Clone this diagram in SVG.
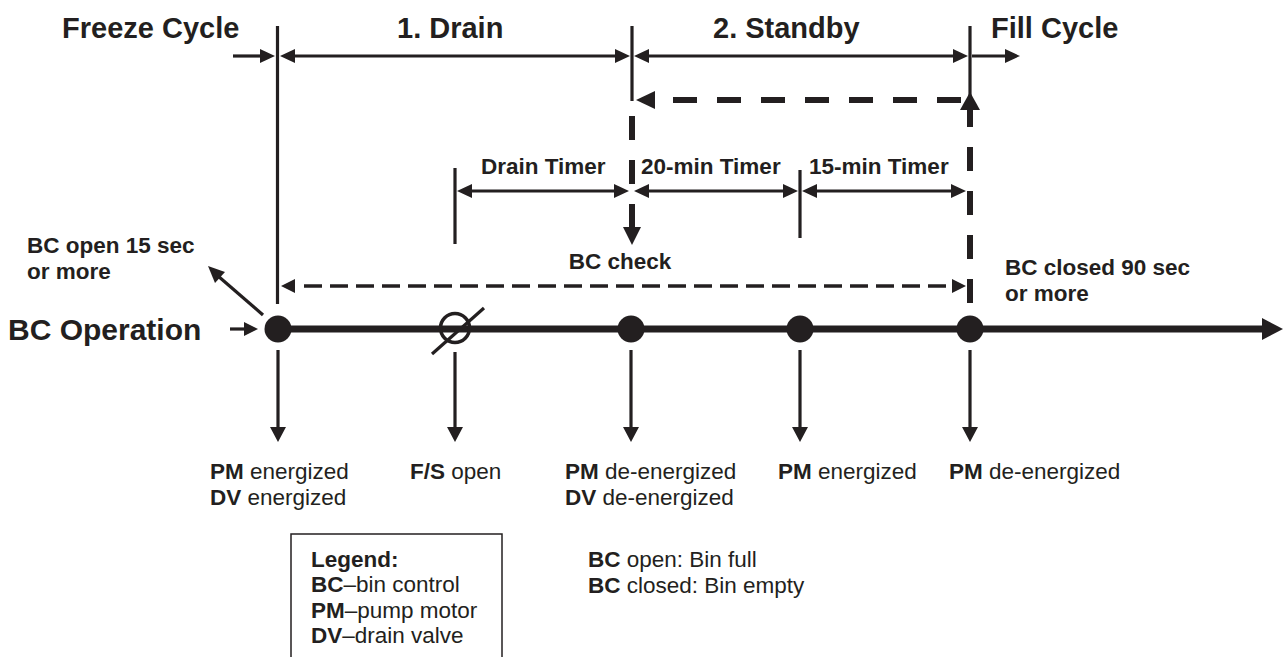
<svg xmlns="http://www.w3.org/2000/svg" width="1284" height="657" viewBox="0 0 1284 657">
<style>
text{font-family:"Liberation Sans",Arial,Helvetica,sans-serif;fill:#231f20}
.h{font-size:29px;font-weight:bold}
.m{font-size:22.5px;font-weight:bold}
.l{font-size:22.5px}
.b{font-weight:bold}
.ln{stroke:#231f20;stroke-width:3.2;fill:none}
.thk{stroke:#231f20;stroke-width:6;fill:none;stroke-dasharray:24 20}
.thin{stroke:#231f20;stroke-width:3.5;fill:none;stroke-dasharray:18 8}
.ah{fill:#231f20}
</style>
<rect width="1284" height="657" fill="#fff"/>
<g id="headings">
<text class="h" x="62" y="38">Freeze Cycle</text>
<text class="h" x="397" y="38">1. Drain</text>
<text class="h" x="713" y="38">2. Standby</text>
<text class="h" x="991" y="38">Fill Cycle</text>
</g>
<g id="connectors">
<line class="ln" x1="277.5" y1="26" x2="277.5" y2="304"/>
<line class="ln" x1="632" y1="26" x2="632" y2="101"/>
<line class="ln" x1="970" y1="26" x2="970" y2="96"/>
<line class="ln" x1="233" y1="56" x2="262" y2="56"/>
<polygon class="ah" points="275,56 260,49 260,63"/>
<line class="ln" x1="292" y1="56" x2="617" y2="56"/>
<polygon class="ah" points="280,56 295,49 295,63"/>
<polygon class="ah" points="630,56 615,49 615,63"/>
<line class="ln" x1="646" y1="56" x2="955" y2="56"/>
<polygon class="ah" points="634,56 649,49 649,63"/>
<polygon class="ah" points="968,56 953,49 953,63"/>
<line class="ln" x1="972" y1="56" x2="1006" y2="56"/>
<polygon class="ah" points="1020,56 1005,49 1005,63"/>
<line class="thk" x1="961" y1="100" x2="673" y2="100"/>
<polygon class="ah" points="636,100 655,91 655,109"/>
<line class="thk" x1="970" y1="303" x2="970" y2="103"/>
<polygon class="ah" points="970,92 960,110 980,110"/>
<line class="thk" x1="632" y1="116" x2="632" y2="228"/>
<polygon class="ah" points="623,227 641,227 632,245"/>
<line class="ln" x1="455" y1="168" x2="455" y2="244"/>
<line class="ln" x1="800" y1="170" x2="800" y2="238"/>
<line class="ln" x1="470" y1="191" x2="616" y2="191"/>
<polygon class="ah" points="457,191 472,184 472,198"/>
<polygon class="ah" points="629,191 614,184 614,198"/>
<line class="ln" x1="647" y1="191" x2="785" y2="191"/>
<polygon class="ah" points="634,191 649,184 649,198"/>
<polygon class="ah" points="798,191 783,184 783,198"/>
<line class="ln" x1="815" y1="191" x2="953" y2="191"/>
<polygon class="ah" points="802,191 817,184 817,198"/>
<polygon class="ah" points="966,191 951,184 951,198"/>
<line class="thin" x1="304" y1="286" x2="953" y2="286"/>
<polygon class="ah" points="281,286 295,279 295,293"/>
<polygon class="ah" points="966,286 952,279 952,293"/>
<line class="ln" x1="263" y1="315" x2="218" y2="276"/>
<polygon class="ah" points="208,266 225,272 215,283"/>
<line class="ln" x1="230" y1="329" x2="246" y2="329"/>
<polygon class="ah" points="258,329 244,322 244,336"/>
<line stroke="#231f20" stroke-width="7" x1="278" y1="329" x2="1265" y2="329"/>
<polygon class="ah" points="1283,329 1262,318 1262,340"/>
<line class="ln" x1="278" y1="350" x2="278" y2="430"/>
<polygon class="ah" points="278,442 270,427 286,427"/>
<line class="ln" x1="455" y1="352" x2="455" y2="430"/>
<polygon class="ah" points="455,442 447,427 463,427"/>
<line class="ln" x1="631" y1="350" x2="631" y2="430"/>
<polygon class="ah" points="631,442 623,427 639,427"/>
<line class="ln" x1="800" y1="350" x2="800" y2="430"/>
<polygon class="ah" points="800,442 792,427 808,427"/>
<line class="ln" x1="970" y1="350" x2="970" y2="430"/>
<polygon class="ah" points="970,442 962,427 978,427"/>
</g>
<g id="nodes">
<circle id="n1" cx="278" cy="329" r="13.5" fill="#231f20"/>
<g id="fs">
<circle cx="455" cy="328" r="14.5" fill="none" stroke="#231f20" stroke-width="3.5"/>
<line class="ln" x1="432" y1="354" x2="484" y2="308"/>
</g>
<circle id="n3" cx="631" cy="329" r="13.5" fill="#231f20"/>
<circle id="n4" cx="800" cy="329" r="13.5" fill="#231f20"/>
<circle id="n5" cx="970" cy="329" r="13.5" fill="#231f20"/>
</g>
<g id="labels">
<text class="m" x="481" y="174">Drain Timer</text>
<text class="m" x="641" y="174">20-min Timer</text>
<text class="m" x="809" y="174">15-min Timer</text>
<text class="m" x="620" y="269" text-anchor="middle">BC check</text>
<text class="m" x="27" y="253">BC open 15 sec</text>
<text class="m" x="27" y="279">or more</text>
<text class="m" x="1005" y="275">BC closed 90 sec</text>
<text class="m" x="1005" y="301">or more</text>
<text class="h" x="8" y="340" style="font-size:30px">BC Operation</text>
<text class="l" x="210" y="479"><tspan class="b">PM</tspan> energized</text>
<text class="l" x="210" y="505"><tspan class="b">DV</tspan> energized</text>
<text class="l" x="410" y="479"><tspan class="b">F/S</tspan> open</text>
<text class="l" x="565" y="479"><tspan class="b">PM</tspan> de-energized</text>
<text class="l" x="565" y="505"><tspan class="b">DV</tspan> de-energized</text>
<text class="l" x="778" y="479"><tspan class="b">PM</tspan> energized</text>
<text class="l" x="949" y="479"><tspan class="b">PM</tspan> de-energized</text>
<text class="l" x="588" y="567"><tspan class="b">BC</tspan> open: Bin full</text>
<text class="l" x="588" y="593"><tspan class="b">BC</tspan> closed: Bin empty</text>
</g>
<g id="legend">
<rect x="291" y="534" width="211" height="140" fill="none" stroke="#231f20" stroke-width="1.5"/>
<text class="l b" x="311" y="567">Legend:</text>
<text class="l" x="311" y="592"><tspan class="b">BC</tspan>–bin control</text>
<text class="l" x="311" y="618"><tspan class="b">PM</tspan>–pump motor</text>
<text class="l" x="311" y="643"><tspan class="b">DV</tspan>–drain valve</text>
</g>
</svg>
